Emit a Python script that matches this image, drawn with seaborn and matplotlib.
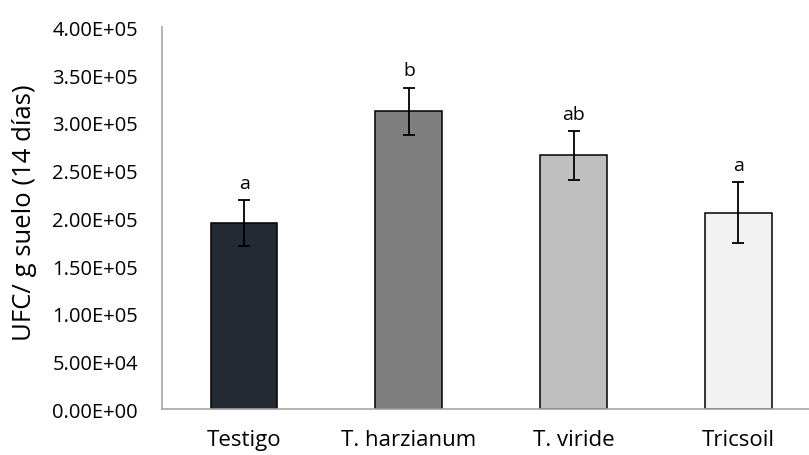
import matplotlib
matplotlib.use("Agg")
import matplotlib.pyplot as plt
import seaborn as sns
import pandas as pd
from matplotlib.ticker import FuncFormatter, MultipleLocator

categories = ["Testigo", "T. harzianum", "T. viride", "Tricsoil"]
means = [1.95e5, 3.12e5, 2.66e5, 2.06e5]
errors = [0.24e5, 0.25e5, 0.255e5, 0.32e5]
letters = ["a", "b", "ab", "a"]
colors = ["#222a35", "#7f7f7f", "#bfbfbf", "#f2f2f2"]

sns.set_theme(style="white")
plt.rcParams["font.family"] = ["Open Sans", "DejaVu Sans"]

df = pd.DataFrame({"cat": categories, "val": means})

fig = plt.figure(figsize=(8.09, 4.56), dpi=100)
ax = fig.add_axes([0.1999, 0.0998, 0.8146, 0.8381])

sns.barplot(data=df, x="cat", y="val", hue="cat", palette=colors, order=categories,
            hue_order=categories, errorbar=None, width=0.405, edgecolor="black",
            linewidth=1.1, legend=False, ax=ax)

xs = list(range(len(categories)))
ax.errorbar(xs, means, yerr=errors, fmt="none", ecolor="black", elinewidth=1.3,
            capsize=4.3, capthick=1.3)

for x, m, e, t in zip(xs, means, errors, letters):
    ax.annotate(t, xy=(x, m + e), xytext=(0, 6), textcoords="offset points",
                ha="center", va="bottom", fontsize=14, color="black")

ax.set_ylim(0, 4e5)
ax.set_xlim(-0.5, 3.5)
ax.yaxis.set_major_locator(MultipleLocator(5e4))
ax.yaxis.set_major_formatter(FuncFormatter(lambda v, p: f"{v:.2E}"))
ax.tick_params(axis="y", length=0, pad=17, labelsize=14.5, labelcolor="black")
ax.tick_params(axis="x", length=0, pad=14, labelsize=16, labelcolor="black")
ax.set_xlabel("")
ax.set_ylabel("UFC/ g suelo (14 días)", fontsize=18.5, color="black")
ax.yaxis.set_label_coords(-0.19, 0.517)

for s in ["top", "right"]:
    ax.spines[s].set_visible(False)
for s in ["left", "bottom"]:
    ax.spines[s].set_color("#a6a6a6")
    ax.spines[s].set_linewidth(1.2)
ax.grid(False)

fig.savefig("out.png", dpi=100)
